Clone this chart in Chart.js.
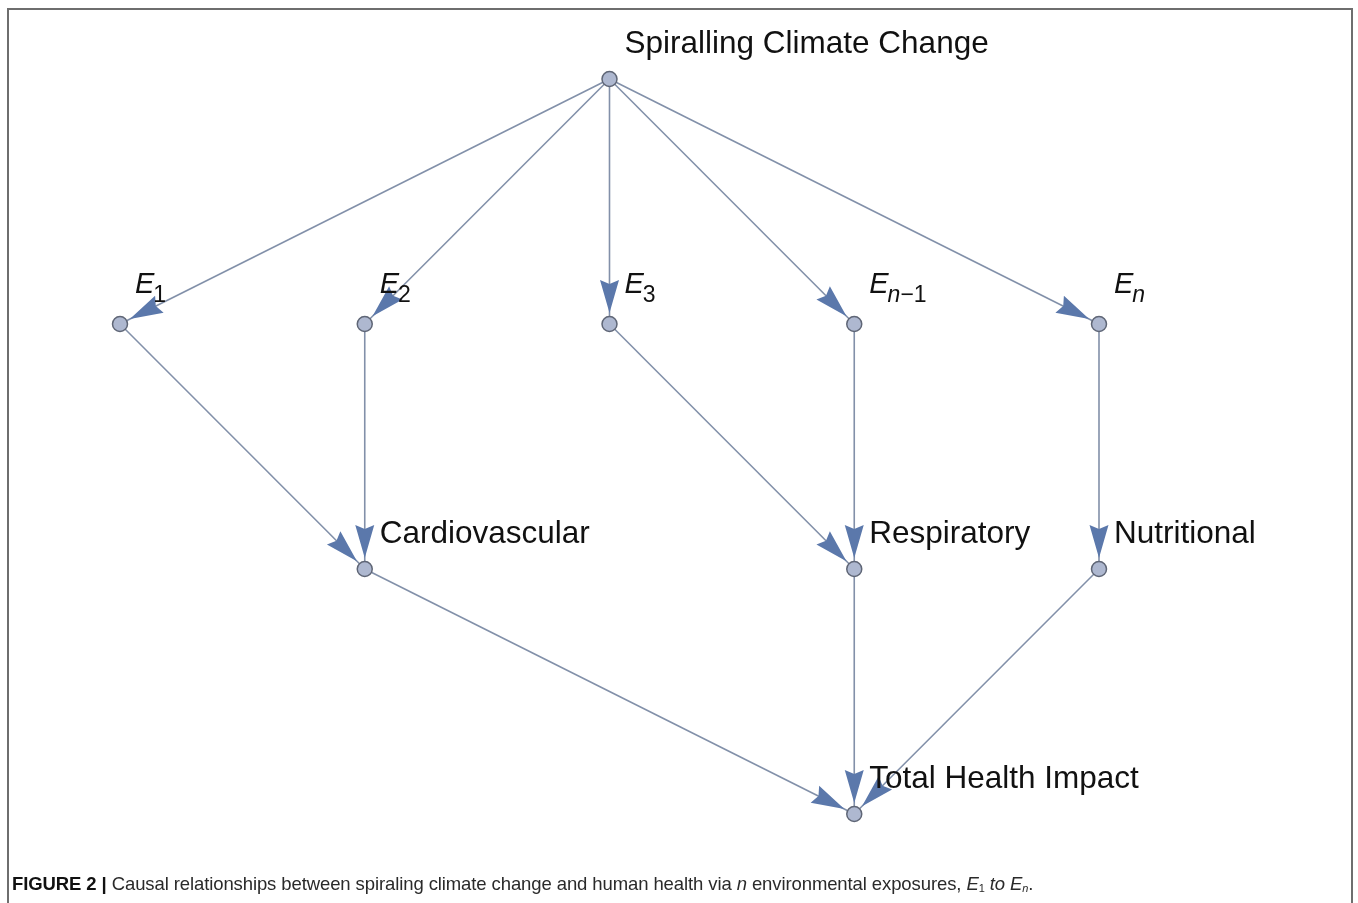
<!DOCTYPE html>
<html>
<head>
<meta charset="utf-8">
<script src="https://cdn.jsdelivr.net/npm/chart.js@4/dist/chart.umd.min.js"></script>
<style>
  html, body { margin:0; padding:0; background:#fff; }
  #wrap { position:relative; width:1358px; height:903px; overflow:hidden; }
  #frame { position:absolute; left:7px; top:8px; width:1346px; height:920px; border:2px solid #6e6e6e; box-sizing:border-box; }
  #c { position:absolute; left:0; top:0; }
  #cap { position:absolute; left:12px; top:873px; font-family:"Liberation Sans",Arial,sans-serif; font-size:18.5px; color:#2a2a2a; white-space:nowrap; letter-spacing:-0.1px; }
  #cap b { font-weight:bold; color:#111; }
  #cap sub { font-size:11px; vertical-align:-2px; line-height:0; }
</style>
</head>
<body>
<div id="wrap">
  <div id="frame"></div>
  <canvas id="c" width="1358" height="903"></canvas>
  <div id="cap"><b>FIGURE 2 |</b> Causal relationships between spiraling climate change and human health via <i>n</i> environmental exposures, <i>E</i><sub>1</sub> <i>to E<sub>n</sub></i>.</div>
</div>
<script>
// Nodes: names, column position and level
const nodeNames  = ["Spiralling Climate Change", "E_1", "E_2", "E_3", "E_n-1", "E_n",
                    "Cardiovascular", "Respiratory", "Nutritional", "Total Health Impact"];
const nodeX      = [2, 0, 1, 2, 3, 4, 1, 3, 4, 3];
const nodeLevel  = [0, 1, 1, 1, 1, 1, 2, 2, 2, 3];
// Directed edges (indices into nodes)
const edgeFrom   = [0, 0, 0, 0, 0, 1, 2, 3, 4, 5, 6, 7, 8];
const edgeTo     = [1, 2, 3, 4, 5, 6, 6, 7, 7, 8, 9, 9, 9];

const EDGE_COLOR = "#8290a9";
const HEAD_COLOR = "#5b78ab";
const NODE_FILL  = "#aeb8d0";
const NODE_LINE  = "#5f6676";

const edgeDatasets = edgeFrom.map((f, i) => ({
  type: "scatter",
  showLine: true,
  data: [{x: nodeX[f], y: nodeLevel[f]}, {x: nodeX[edgeTo[i]], y: nodeLevel[edgeTo[i]]}],
  borderColor: EDGE_COLOR,
  borderWidth: 1.6,
  pointRadius: 0,
  clip: false,
  order: 2
}));

const nodeDataset = {
  type: "scatter",
  data: nodeX.map((x, i) => ({x: x, y: nodeLevel[i]})),
  pointRadius: 7.5,
  pointBackgroundColor: NODE_FILL,
  pointBorderColor: NODE_LINE,
  pointBorderWidth: 1.5,
  clip: false,
  order: 0
};

const graphPlugin = {
  id: "graph",
  afterDatasetsDraw(chart) {
    const ctx = chart.ctx;
    const xs = chart.scales.x, ys = chart.scales.y;
    const px = i => xs.getPixelForValue(nodeX[i]);
    const py = i => ys.getPixelForValue(nodeLevel[i]);
    // arrowheads
    ctx.save();
    ctx.fillStyle = HEAD_COLOR;
    edgeFrom.forEach((f, i) => {
      const t = edgeTo[i];
      const x0 = px(f), y0 = py(f), x1 = px(t), y1 = py(t);
      const dx = x1 - x0, dy = y1 - y0, L = Math.hypot(dx, dy);
      const ux = dx / L, uy = dy / L, nx = -uy, ny = ux;
      const tipD = 11, len = 33, hw = 9.5, notch = 4;
      const tx = x1 - ux * tipD, ty = y1 - uy * tipD;
      const bx = tx - ux * len, by = ty - uy * len;
      ctx.beginPath();
      ctx.moveTo(tx, ty);
      ctx.lineTo(bx + nx * hw, by + ny * hw);
      ctx.lineTo(bx + ux * notch, by + uy * notch);
      ctx.lineTo(bx - nx * hw, by - ny * hw);
      ctx.closePath();
      ctx.fill();
    });
    ctx.restore();
    // labels
    ctx.save();
    ctx.fillStyle = "#111";
    ctx.textBaseline = "alphabetic";
    ctx.textAlign = "left";
    nodeNames.forEach((name, i) => {
      const x = px(i) + 15, y = py(i);
      if (name.startsWith("E_")) {
        const sub = name.slice(2);
        ctx.font = "italic 29px 'Liberation Sans', Arial, sans-serif";
        const by = y - 31;
        ctx.fillText("E", x, by);
        let cx = x + ctx.measureText("E").width - 1;
        const sy = by + 9;
        for (const ch of sub) {
          if (ch === "n") {
            ctx.font = "italic 23px 'Liberation Sans', Arial, sans-serif";
            ctx.fillText("n", cx, sy);
            cx += ctx.measureText("n").width;
          } else {
            const c = ch === "-" ? "\u2212" : ch;
            ctx.font = "23px 'Liberation Sans', Arial, sans-serif";
            ctx.fillText(c, cx, sy);
            cx += ctx.measureText(c).width;
          }
        }
      } else {
        ctx.font = "31.5px 'Liberation Sans', Arial, sans-serif";
        ctx.fillText(name, x, y - 26);
      }
    });
    ctx.restore();
  }
};

new Chart(document.getElementById("c"), {
  type: "scatter",
  data: { datasets: [nodeDataset, ...edgeDatasets] },
  options: {
    responsive: false,
    animation: false,
    events: [],
    layout: { padding: { left: 120, right: 259, top: 79, bottom: 89 } },
    plugins: { legend: { display: false }, tooltip: { enabled: false } },
    scales: {
      x: { type: "linear", min: 0, max: 4, display: false },
      y: { type: "linear", min: 0, max: 3, reverse: true, display: false }
    }
  },
  plugins: [graphPlugin]
});
</script>
</body>
</html>
